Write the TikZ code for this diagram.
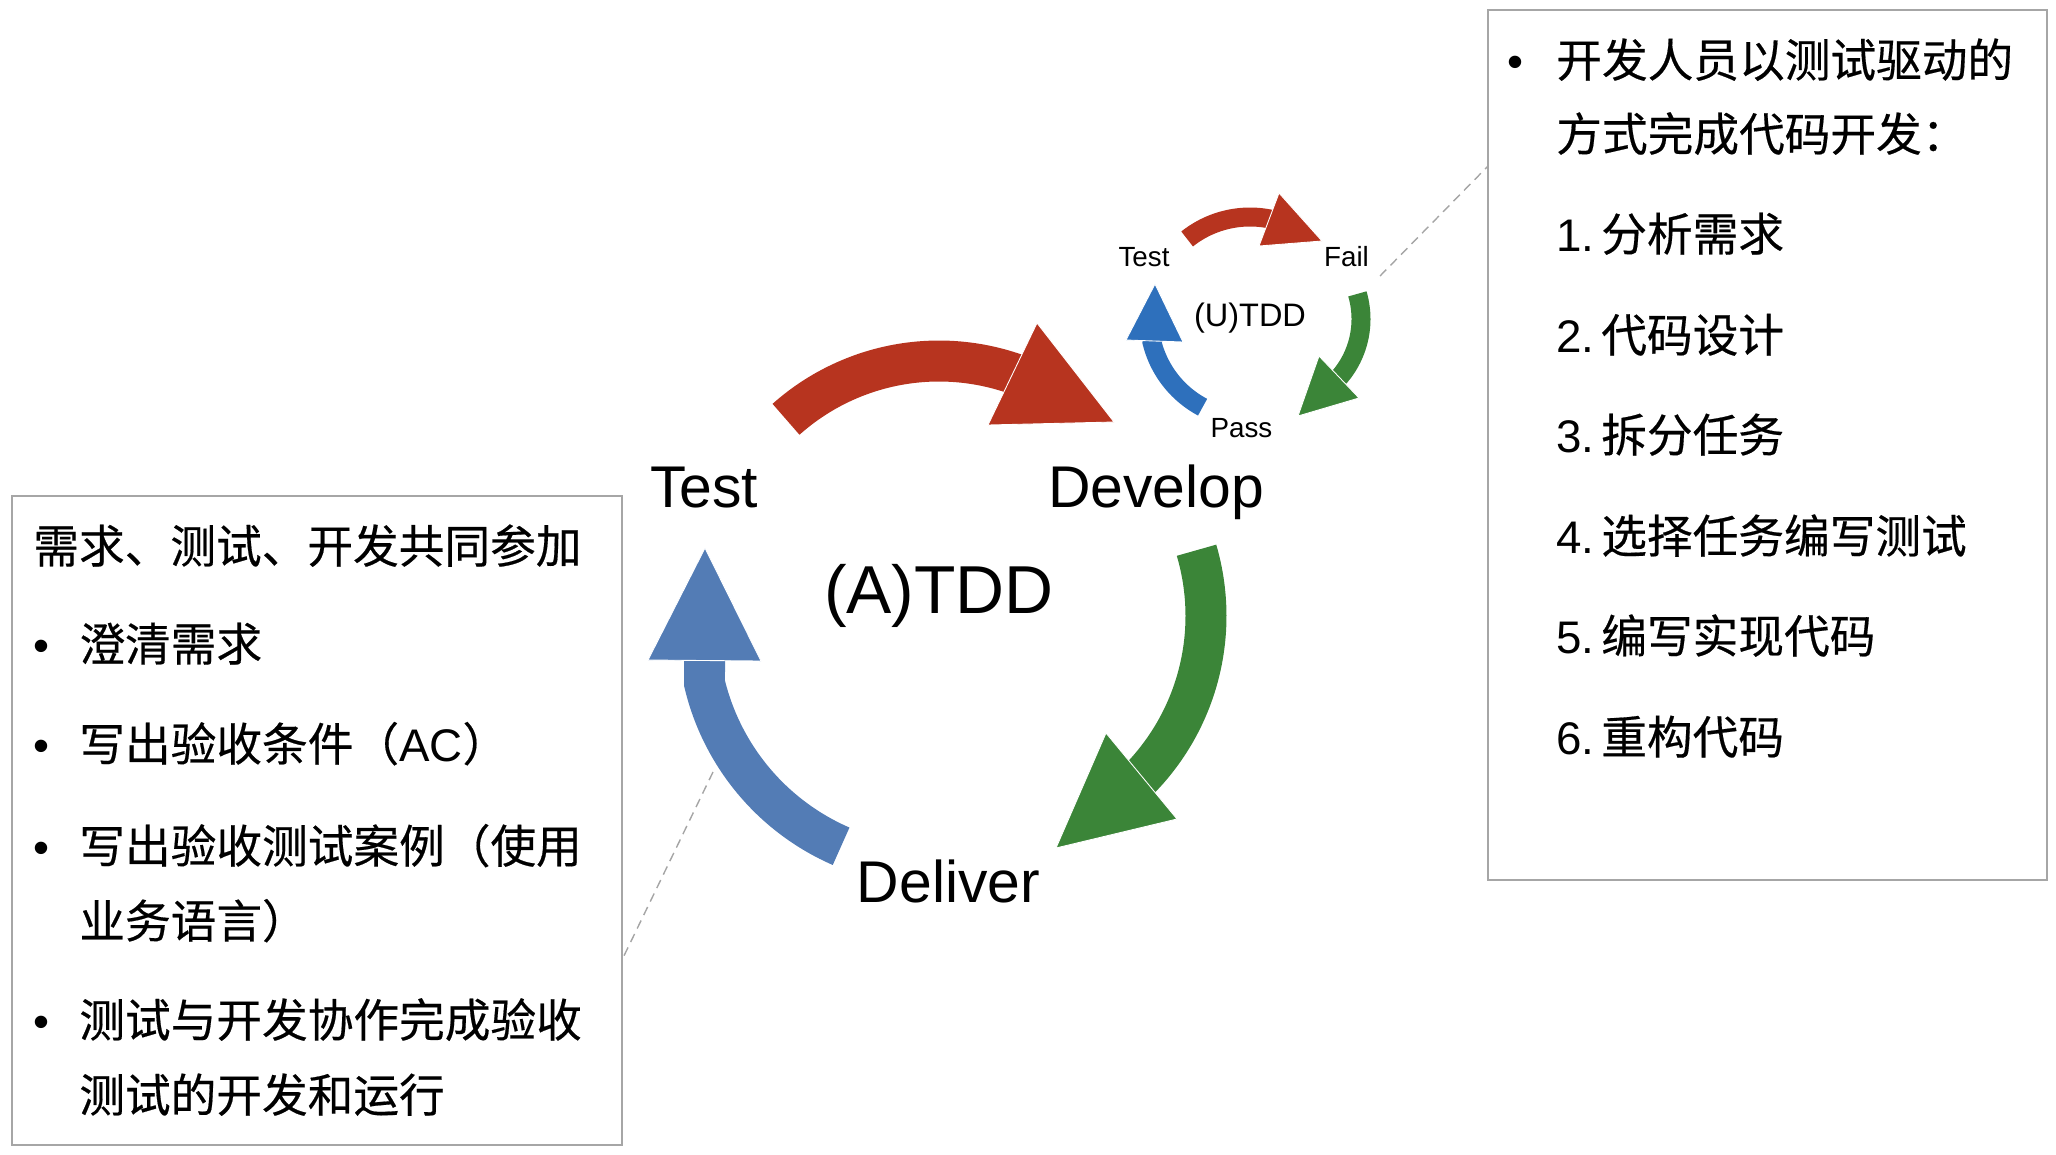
\documentclass[tikz,border=0pt]{standalone}
\usepackage{fontspec}
\setmainfont{Liberation Sans}
\newfontfamily\cjk[FakeBold=0.4]{Noto Sans CJK SC}
\newfontfamily\latf{Liberation Sans}
\definecolor{arred}{RGB}{183,52,31}
\definecolor{argreen}{RGB}{59,133,56}
\definecolor{arblue}{RGB}{83,124,181}
\definecolor{arblueS}{RGB}{46,112,188}
\definecolor{boxgray}{RGB}{166,166,166}
\definecolor{leadgray}{RGB}{165,165,165}
\begin{document}
\begin{tikzpicture}[x=0.02cm, y=-0.02cm,
  panel/.style={draw=boxgray, line width=1pt, inner sep=0pt, outer sep=0pt, fill=white},
  bigshaft/.style={line width=0.82cm},
  smallshaft/.style={line width=0.38cm},
  headtri/.style={draw=white, line width=0.5pt, line join=miter},
  bigtxt/.style={font=\fontsize{33.5}{40}\selectfont, anchor=base, inner sep=0pt},
  atdd/.style={font=\fontsize{38.6}{46}\selectfont, anchor=base, inner sep=0pt},
  smtxt/.style={font=\fontsize{15.8}{19}\selectfont, anchor=base, inner sep=0pt},
  utdd/.style={font=\fontsize{18.5}{22}\selectfont, anchor=base, inner sep=0pt},
  cjktxt/.style={font=\cjk\fontsize{26}{30}\selectfont, anchor=base west, inner sep=0pt},
  bul/.style={font=\latf\fontsize{26}{30}\selectfont, anchor=base, inner sep=0pt},
  leader/.style={draw=leadgray, line width=0.8pt, dash pattern=on 0.18cm off 0.12cm}
]
\useasboundingbox (0,0) rectangle (2056,1154);

% boxes
\node[panel, minimum width=12.2cm, minimum height=12.98cm] (lbox) at (317,820.5) {};
\node[panel, minimum width=11.18cm, minimum height=17.4cm] (rbox) at (1767.5,445) {};

% ---------- big cycle ----------
% red (Test -> Develop)
\draw[arred, bigshaft] plot[domain=131.7:70, samples=50] ({939+230*cos(\x)}, {591-230*sin(\x)});
\filldraw[fill=arred, headtri] (1037,323) -- (988,425) -- (1114,422) -- cycle;
% green (Develop -> Deliver)
\draw[argreen, bigshaft] plot[domain=16.4:-45, samples=50] ({973+233*cos(\x)}, {616-233*sin(\x)});
\filldraw[fill=argreen, headtri] (1106,733) -- (1177,819) -- (1056,848) -- cycle;
% blue (Deliver -> Test)
\draw[arblue, bigshaft] plot[domain=246.5:193.4, samples=50] ({936+238*cos(\x)}, {628-238*sin(\x)}) -- (704.5,655);
\filldraw[fill=arblue, headtri] (705,548) -- (648,660) -- (761,661) -- cycle;

% ---------- small cycle ----------
\draw[arred, smallshaft] plot[domain=128.5:77, samples=40] ({1250+101*cos(\x)}, {318-101*sin(\x)});
\filldraw[fill=arred, headtri] (1279,193) -- (1259,246) -- (1322,241) -- cycle;
\draw[argreen, smallshaft] plot[domain=16.4:-43, samples=40] ({1272+89*cos(\x)}, {319-89*sin(\x)});
\filldraw[fill=argreen, headtri] (1319,356) -- (1359,398) -- (1298,416) -- cycle;
\draw[arblueS, smallshaft] plot[domain=242:194, samples=40] ({1250+101*cos(\x)}, {318-101*sin(\x)}) -- (1153,336);
\filldraw[fill=arblueS, headtri] (1155,284) -- (1126,340) -- (1183,342) -- cycle;

% labels
\node[bigtxt] (tTest) at (704,507) {Test};
\node[bigtxt] (tDev) at (1156,507) {Develop};
\node[bigtxt] (tDel) at (948.5,902) {Deliver};
\node[atdd] (tATDD) at (939,613) {(A)TDD};
\node[smtxt] (sTest) at (1144,266) {Test};
\node[smtxt] (sFail) at (1346.5,266) {Fail};
\node[smtxt] (sPass) at (1241.5,437) {Pass};
\node[utdd] (sUTDD) at (1250,326) {(U)TDD};

% leader lines
\coordinate (lcA) at (713,772);
\coordinate (lyB) at (0,960);
\draw[leader] (lcA) -- (lbox.east |- lyB);
\coordinate (rcA) at (1380,276);
\coordinate (ryB) at (0,166);
\draw[leader] (rcA) -- (rbox.west |- ryB);

% left box text
\node[cjktxt] (lhead) at (33,563) {需求、测试、开发共同参加};
\node[bul] (lb1) at (41,661) {•};
\node[cjktxt] (lt1) at (79,661) {澄清需求};
\node[bul] (lb2) at (41,761) {•};
\node[cjktxt] (lt2) at (79,761) {写出验收条件（{\latf AC}）};
\node[bul] (lb3) at (41,863) {•};
\node[cjktxt] (lt3a) at (79,863) {写出验收测试案例（使用};
\node[cjktxt] (lt3b) at (79,938) {业务语言）};
\node[bul] (lb4) at (41,1037) {•};
\node[cjktxt] (lt4a) at (79,1037) {测试与开发协作完成验收};
\node[cjktxt] (lt4b) at (79,1112) {测试的开发和运行};

% right box text
\node[bul] (rb1) at (1515,77) {•};
\node[cjktxt] (rt1a) at (1556,77) {开发人员以测试驱动的};
\node[cjktxt] (rt1b) at (1556,151) {方式完成代码开发：};
\node[cjktxt] (rs1) at (1556,251) {{\latf 1.\hspace{0.15em}}分析需求};
\node[cjktxt] (rs2) at (1556,352) {{\latf 2.\hspace{0.15em}}代码设计};
\node[cjktxt] (rs3) at (1556,452) {{\latf 3.\hspace{0.15em}}拆分任务};
\node[cjktxt] (rs4) at (1556,553) {{\latf 4.\hspace{0.15em}}选择任务编写测试};
\node[cjktxt] (rs5) at (1556,653) {{\latf 5.\hspace{0.15em}}编写实现代码};
\node[cjktxt] (rs6) at (1556,754) {{\latf 6.\hspace{0.15em}}重构代码};
\end{tikzpicture}
\end{document}
